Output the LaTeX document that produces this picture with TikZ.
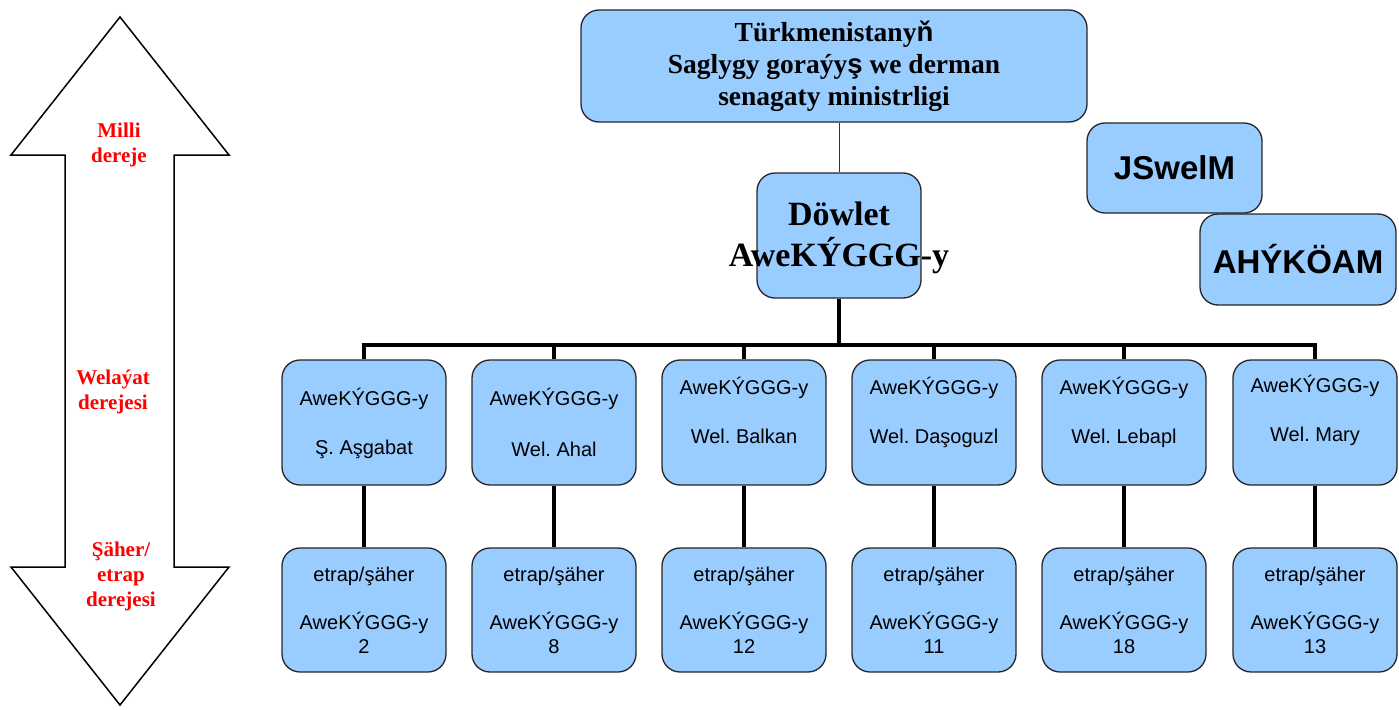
\documentclass[tikz,border=0pt]{standalone}
\usepackage{fontspec}
\setmainfont{Liberation Serif}
\newfontfamily\arial{Liberation Sans}
\definecolor{boxblue}{HTML}{99CCFF}
\definecolor{lblred}{HTML}{FF0000}
\frenchspacing
\begin{document}
\begin{tikzpicture}[x=1pt,y=-1pt,
  box/.style={draw=black!85, line width=1.3pt, fill=boxblue, rounded corners=18pt, inner sep=0pt, align=center},
  regbox/.style={box, minimum width=164pt, minimum height=125pt},
  distbox/.style={box, minimum width=164pt, minimum height=124pt, font=\arial\fontsize{20}{24}\selectfont},
  regtxt/.style={font=\arial\fontsize{20}{24}\selectfont, inner sep=0pt},
  thick link/.style={line width=3.4pt, black},
  thin link/.style={line width=1pt, black!80},
  lvl/.style={text=lblred, font=\bfseries\fontsize{21}{25}\selectfont, align=center, inner sep=0pt}
]
\useasboundingbox (0,0) rectangle (1399,709);

% left double arrow
\draw[line width=1.5pt, line join=miter, fill=white]
  (120,17) -- (229,155) -- (174,155) -- (174,567) -- (229,567) -- (120,705)
  -- (11,567) -- (65,567) -- (65,155) -- (11,155) -- cycle;
\node[lvl] (lnat) at (119,145) {Milli\\dereje};
\node[lvl] (lreg) at (113,392) {Welaýat\\derejesi};
\node[lvl] (ldis) at (121,576) {Şäher/\\etrap\\derejesi};

% top boxes
\node[box, minimum width=506pt, minimum height=112pt,
  font=\bfseries\fontsize{27.5}{32}\selectfont] (min) at (834,66)
  {Türkmenistany{\arial\bfseries ň}\\Saglygy goraýy{\arial\bfseries ş} we derman\\senagaty ministrligi};
\node[box, minimum width=164pt, minimum height=125pt] (dow) at (839,235.5) {};
\node[font=\bfseries\fontsize{34}{41}\selectfont, align=center, inner sep=0pt] (dowt) at (839,238) {Döwlet\\AweKÝGGG-y};
\node[box, minimum width=175pt, minimum height=90pt, font=\arial\bfseries\fontsize{33}{38}\selectfont] (jsw) at (1174.5,168) {JSwelM};
\node[box, minimum width=196pt, minimum height=91pt, font=\arial\bfseries\fontsize{33}{38}\selectfont] (ahy) at (1298,259.5) {AHÝKÖAM};

\draw[thin link] (dow.north |- min.south) -- (dow.north);

% bus
\coordinate (bus) at (839,345);
\coordinate (busL) at (364,345);
\coordinate (busR) at (1315,345);
\draw[thick link] (dow.south) -- (bus);
\draw[thick link, line cap=rect] (busL) -- (busR);

% regional boxes
\foreach \i/\x/\ya/\yb/\name in {1/364/399/449/Ş. Aşgabat, 2/554/399/449/Wel. Ahal, 3/744/388/436/Wel. Balkan, 4/934/388/438/Wel. Daşoguzl, 5/1124/388/438/Wel. Lebapl, 6/1315/386/436/Wel. Mary}{
  \coordinate (t\i) at (\x,345);
  \node[regbox] (r\i) at (\x,422.5) {};
  \node[regtxt] (ra\i) at (\x,\ya) {AweKÝGGG-y};
  \node[regtxt] (rb\i) at (\x,\yb) {\name};
  \draw[thick link] (t\i) -- (r\i.north);
}

% district boxes
\foreach \i/\x/\n in {1/364/2, 2/554/8, 3/744/12, 4/934/11, 5/1124/18, 6/1315/13}{
  \node[distbox] (d\i) at (\x,610) {etrap/şäher\\[24pt]AweKÝGGG-y\\\n};
  \draw[thick link] (r\i.south) -- (d\i.north);
}
\end{tikzpicture}
\end{document}
